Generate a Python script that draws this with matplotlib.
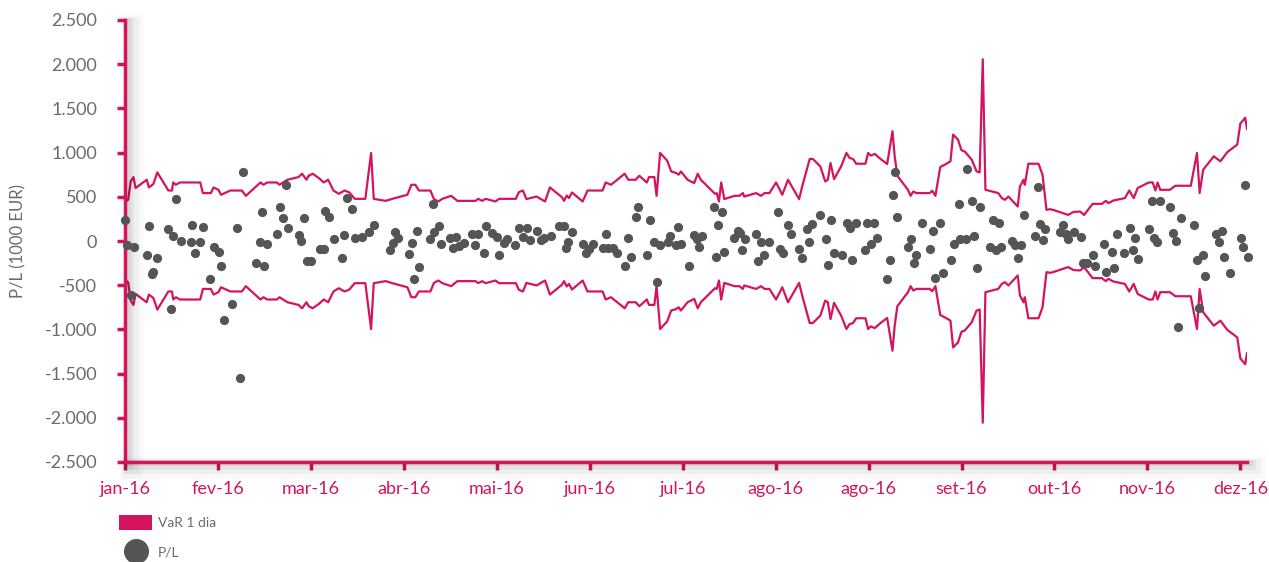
import matplotlib
matplotlib.use('Agg')
import matplotlib.pyplot as plt
import matplotlib.patheffects as pe
from matplotlib.patches import Patch
from matplotlib.lines import Line2D
from matplotlib.ticker import FuncFormatter

# VaR 1 dia (vertices da linha superior; a inferior e o simetrico)
var_days = [0.2, 0.7, 1.3, 1.9, 2.4, 4.9, 5.4, 6.4, 7.3, 9.8, 10.6, 10.9, 11.5, 12.4, 17.0, 17.6,
            19.4, 20.0, 21.1, 21.7, 23.8, 26.4, 27.3, 30.6, 31.3, 32.1, 34.3, 34.9, 36.7, 39.2,
            40.0, 41.0, 41.5, 42.4, 43.8, 44.9, 45.9, 47.1, 48.3, 49.6, 50.7, 51.9, 54.3, 55.6,
            56.2, 58.9, 60.4, 63.8, 64.7, 65.6, 66.4, 69.0, 69.8, 70.8, 71.7, 73.7, 75.1, 79.2,
            79.8, 80.7, 81.5, 83.7, 84.5, 88.3, 89.0, 89.9, 90.7, 93.0, 94.9, 96.0, 98.7, 99.2,
            99.8, 100.3, 101.0, 103.4, 104.5, 107.9, 108.6, 109.8, 111.4, 112.9, 113.7, 115.4,
            116.2, 117.9, 118.4, 119.6, 120.1, 120.9, 122.5, 123.4, 124.5, 125.1, 125.6, 127.1,
            128.6, 129.4, 130.1, 132.0, 133.3, 133.7, 134.2, 134.7, 135.4, 137.7, 138.8, 139.6,
            139.9, 142.6, 143.7, 144.5, 145.6, 147.1, 148.5, 149.8, 152.3, 153.1, 154.7, 155.4,
            157.1, 158.2, 158.8, 159.4, 160.2, 161.8, 163.0, 163.7, 164.5, 165.2, 167.3, 167.9,
            168.5, 169.4, 170.7, 172.2, 173.4, 173.9, 174.5, 176.9, 177.5, 178.1, 178.8, 181.8,
            182.4, 183.1, 184.2, 185.2, 186.5, 187.1, 188.2, 189.0, 189.7, 191.3, 192.4, 193.1,
            193.8, 194.4, 197.3, 198.1, 198.8, 199.6, 201.7, 202.2, 203.0, 203.3, 204.1, 206.4,
            207.3, 208.2, 209.0, 209.7, 212.0, 213.1, 214.3, 215.8, 216.7, 218.6, 220.7, 221.6,
            222.2, 223.3, 225.9, 226.9, 227.9, 228.8, 231.3, 232.2, 232.8, 233.3, 233.9, 236.1,
            237.3, 240.8, 242.2, 242.8, 243.6, 246.0, 247.5, 249.0, 251.3, 252.0, 253.1, 253.5]
var_values = [447, 466, 674, 723, 599, 693, 606, 644, 776, 571, 571, 662, 636, 662, 662, 542,
              542, 606, 579, 523, 571, 571, 511, 662, 636, 662, 662, 636, 693, 723,
              761, 693, 738, 761, 712, 662, 693, 571, 534, 571, 549, 477, 477, 996,
              477, 454, 477, 523, 636, 636, 571, 571, 474, 447, 477, 511, 454, 454,
              477, 454, 477, 447, 477, 477, 553, 571, 474, 503, 447, 606, 496, 454,
              515, 485, 549, 447, 571, 571, 662, 636, 700, 761, 693, 693,
              738, 662, 723, 723, 511, 996, 909, 787, 770, 750, 787, 693,
              655, 761, 693, 599, 534, 542, 447, 662, 474, 511, 511, 542,
              503, 542, 511, 542, 542, 662, 523, 693, 474, 636, 928, 928,
              844, 674, 693, 883, 700, 844, 996, 940, 928, 874, 874, 996,
              966, 985, 928, 871, 1242, 958, 738, 579, 511, 560, 542, 542,
              568, 511, 837, 863, 901, 1204, 1147, 1026, 1014, 920, 787, 776,
              2056, 579, 542, 485, 466, 503, 390, 617, 693, 636, 874, 874,
              750, 352, 360, 352, 314, 295, 329, 333, 295, 420, 420, 454,
              428, 458, 485, 571, 485, 599, 662, 662, 571, 662, 579, 579,
              625, 625, 996, 542, 807, 958, 901, 1003, 1091, 1329, 1394, 1269]

# P/L diario
pl_days = [0.0, 0.5, 1.4, 2.0, 4.9, 5.5, 6.0, 6.4, 7.2, 9.7, 10.3, 10.9, 11.5, 12.7, 14.8, 15.1,
           15.8, 16.9, 17.6, 19.3, 20.0, 21.3, 21.8, 22.4, 24.2, 25.4, 26.0, 26.6, 29.6, 30.4,
           30.9, 31.5, 32.1, 34.4, 35.1, 35.8, 36.3, 36.8, 39.3, 39.8, 40.5, 41.1, 42.1, 44.1,
           44.9, 45.3, 46.0, 47.2, 49.0, 49.5, 50.2, 51.3, 51.9, 53.6, 55.1, 56.2, 59.8, 60.5,
           61.0, 61.6, 64.1, 64.8, 65.2, 65.9, 66.5, 69.0, 69.5, 69.8, 70.9, 71.3, 73.4, 74.2,
           74.8, 75.4, 76.7, 78.5, 79.1, 79.7, 81.0, 81.5, 83.0, 84.1, 84.6, 85.6, 86.2, 88.2,
           89.0, 90.0, 90.8, 91.4, 93.0, 94.0, 94.7, 96.2, 98.0, 99.2, 99.6, 100.2, 100.9, 103.4,
           104.1, 104.9, 105.7, 108.1, 108.7, 109.2, 110.2, 111.1, 113.0, 113.6, 114.3, 115.4,
           116.0, 117.9, 118.6, 119.6, 120.3, 120.9, 122.6, 123.2, 124.5, 125.0, 125.6, 127.5,
           128.6, 129.3, 129.8, 130.4, 133.0, 133.5, 134.0, 134.8, 135.3, 137.7, 138.4, 139.0,
           139.5, 140.1, 142.5, 143.1, 143.6, 144.4, 145.6, 147.5, 148.0, 148.6, 149.9, 150.4,
           152.2, 152.9, 154.1, 154.6, 155.2, 157.1, 158.3, 158.8, 159.4, 160.2, 162.0, 163.1,
           163.9, 164.3, 165.1, 167.2, 167.7, 168.5, 169.2, 169.9, 172.2, 172.8, 173.5, 173.9,
           174.5, 177.0, 177.5, 178.2, 178.8, 180.0, 181.8, 182.5, 183.1, 184.2, 184.8, 186.7,
           187.3, 188.4, 188.6, 190.0, 190.3, 191.3, 191.9, 192.5, 193.1, 195.5, 196.0, 196.7,
           197.4, 197.9, 200.5, 201.0, 201.7, 202.4, 203.1, 205.7, 206.2, 206.8, 207.4, 207.9,
           211.2, 211.9, 212.7, 213.0, 214.4, 216.1, 216.5, 217.4, 218.7, 219.2, 221.1, 221.7,
           222.9, 223.4, 224.2, 225.8, 227.1, 227.7, 228.3, 228.8, 231.3, 232.1, 232.5, 233.1,
           233.8, 236.1, 236.8, 237.4, 237.9, 238.6, 241.6, 242.3, 242.7, 243.5, 244.0, 246.4,
           247.2, 247.8, 248.4, 249.7, 252.1, 252.7, 253.0, 253.7]
pl_values = [239, -42, -613, -72, -163, 170, -375, -348, -190, 140, -769, 53, 477, 0, -11, 182,
             -133, -11, 156, -435, -72, -128, -284, -889, -708, 144, -1553, 776, -253, -11,
             333, -284, -34, 80, 390, 265, 636, 144, 65, 3, 265, -224, -224, -94,
             -94, 344, 269, 26, -190, 65, 485, 363, 31, 49, 106, 178, -102, -26,
             99, 31, -151, -26, -428, 114, -299, 26, 420, 106, 170, -37, 31, -76,
             49, -57, -19, 76, -42, 76, -133, 174, 87, 49, -163, -19, 19, -42,
             148, 42, 148, 11, 114, 11, 37, 57, 170, 170, -76, -11, 106, -37,
             -140, -94, -37, -76, 80, -76, -76, -133, -280, 31, -185, 276,
             390, -159, 239, -15, -462, -49, -15, 57, -42, 156, -37, -280,
             68, 26, -68, 53, 390, -185, 178, 329, -128, 37, 117, 87,
             -102, 19, 80, -227, -15, -163, -15, 329, -87, -133, 178, 80,
             -94, -190, 136, -11, 193, 292, 19, -276, 235, -133, -163, 208,
             151, -219, 208, -102, 204, -30, 204, 34, -432, -216, 515, 784,
             269, -65, 23, -246, -159, 204, -94, 114, -424, 208, -367, -212,
             -37, 420, 26, 26, 818, 447, 53, -310, 390, -72, 242, -106,
             208, -72, 0, -49, -193, -42, 299, 53, 606, 197, 15, 136,
             99, 178, 83, 19, 102, 49, -253, -253, -156, -284, -37, -348,
             -125, -310, 83, -133, 148, -102, 31, -201, 140, 451, 31, -15,
             451, 390, 87, 0, -974, 265, 178, -219, -758, -156, -398, 83,
             -15, 110, -185, -367, 31, -65, 636, -185]

month_labels = ['jan-16', 'fev-16', 'mar-16', 'abr-16', 'mai-16', 'jun-16', 'jul-16',
                'ago-16', 'ago-16', 'set-16', 'out-16', 'nov-16', 'dez-16']

pink = '#d4145f'
dot_grey = '#555555'
text_grey = '#6b6b6b'

plt.rcParams['font.family'] = ['Lato', 'DejaVu Sans']

fig = plt.figure(figsize=(12.69, 5.62), dpi=100)
ax = fig.add_axes([125 / 1269, 1 - 462 / 562, 1122 / 1269, 442 / 562])

ax.plot(var_days, var_values, color=pink, lw=1.6)
ax.plot(var_days, [-v for v in var_values], color=pink, lw=1.6)
ax.scatter(pl_days, pl_values, s=44, color=dot_grey, linewidths=0, zorder=3, clip_on=False)

ax.set_xlim(0, 253.5)
ax.set_ylim(-2500, 2500)
ax.set_xticks([21 * i for i in range(len(month_labels))])
ax.set_xticklabels(month_labels)
ax.set_yticks(range(-2500, 2501, 500))
ax.yaxis.set_major_formatter(FuncFormatter(lambda v, p: f'{int(v):,}'.replace(',', '.')))

# eixos cor-de-rosa com sombra suave
shadow = [pe.Stroke(offset=(5, -4), linewidth=16, foreground='black', alpha=0.025),
          pe.Stroke(offset=(4, -3), linewidth=11, foreground='black', alpha=0.035),
          pe.Stroke(offset=(3, -2), linewidth=7, foreground='black', alpha=0.05),
          pe.Stroke(offset=(2, -1), linewidth=4, foreground='black', alpha=0.06),
          pe.Normal()]
for side in ['top', 'right']:
    ax.spines[side].set_visible(False)
for side in ['left', 'bottom']:
    ax.spines[side].set_color(pink)
    ax.spines[side].set_linewidth(2.5)
    ax.spines[side].set_path_effects(shadow)

ax.tick_params(axis='both', color=pink, width=2.5, length=6, direction='out')
ax.tick_params(axis='y', labelcolor=text_grey, labelsize=13, pad=14)
ax.tick_params(axis='x', labelcolor=pink, labelsize=13, pad=8)

fig.text(18 / 1269, 1 - 241 / 562, 'P/L (1000 EUR)', rotation=90, va='center', ha='center',
         color=text_grey, fontsize=12)

handles = [Patch(facecolor=pink, label='VaR 1 dia'),
           Line2D([], [], marker='o', ls='', color=dot_grey, markersize=17, label='P/L')]
fig.legend(handles=handles, loc='upper left', bbox_to_anchor=(119 / 1269, 1 - 515 / 562),
           frameon=False, fontsize=10, labelcolor=text_grey, handlelength=2.4,
           handleheight=1.25, handletextpad=0.4, labelspacing=1.1, borderpad=0,
           borderaxespad=0)

fig.savefig('out.png', dpi=100)
